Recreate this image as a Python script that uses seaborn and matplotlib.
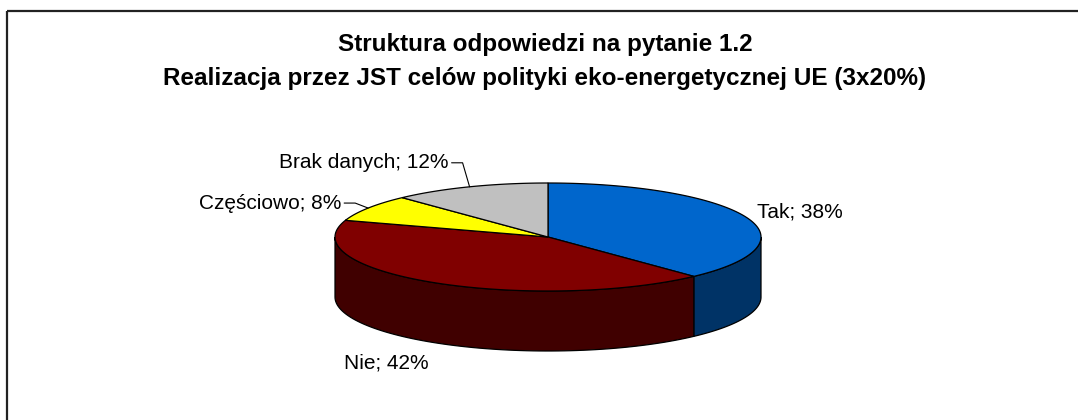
import numpy as np
import matplotlib
matplotlib.use("Agg")
import matplotlib.pyplot as plt
from matplotlib.patches import Polygon, Rectangle
import seaborn as sns

# data
categories = ["Tak", "Nie", "Częściowo", "Brak danych"]
shares = [38, 42, 8, 12]
top_colors = ["#0066CC", "#800000", "#FFFF00", "#C0C0C0"]
side_colors = ["#003366", "#400000", "#808000", "#606060"]

title_lines = ["Struktura odpowiedzi na pytanie 1.2",
               "Realizacja przez JST celów polityki eko-energetycznej UE (3x20%)"]

# label placement (offset of text anchor from slice mid-point on the rim)
label_offsets = [(11, -5, "left"), (-48, 80, "center"), (-27, -5, "right"), (-21, -24, "right")]
leader = [False, False, True, True]

sns.set_theme(style="white")
plt.rcParams["font.family"] = ["Liberation Sans", "DejaVu Sans"]

W, H = 1078, 420
fig = plt.figure(figsize=(W / 100, H / 100), dpi=100)
ax = fig.add_axes([0, 0, 1, 1])
ax.set_xlim(0, W)
ax.set_ylim(H, 0)
ax.axis("off")

# chart frame
ax.add_patch(Rectangle((7, 11), W, H, fill=False, edgecolor="#222222", lw=1.6))

cx, cy, a, b, depth = 548, 237, 213, 54, 60


def rim(t_deg):
    t = np.radians(t_deg)
    return cx + a * np.cos(t), cy - b * np.sin(t)


# slice angles: start at 12 o'clock, clockwise
total = sum(shares)
starts, ends = [], []
t = 90.0
for s in shares:
    starts.append(t)
    t -= 360.0 * s / total
    ends.append(t)

# side walls (front half only)
for i in range(len(shares)):
    lo, hi = ends[i], starts[i]
    for k in range(-2, 2):
        vlo, vhi = -180 + 360 * k, 360 * k
        l, h = max(lo, vlo), min(hi, vhi)
        if h - l <= 0:
            continue
        tt = np.linspace(l, h, 80)
        xs, ys = rim(tt)
        pts = np.column_stack([np.r_[xs, xs[::-1]], np.r_[ys, ys[::-1] + depth]])
        ax.add_patch(Polygon(pts, closed=True, facecolor=side_colors[i],
                             edgecolor="black", lw=0.9))

# top faces
for i in range(len(shares)):
    tt = np.linspace(starts[i], ends[i], 120)
    xs, ys = rim(tt)
    pts = np.column_stack([np.r_[cx, xs], np.r_[cy, ys]])
    ax.add_patch(Polygon(pts, closed=True, facecolor=top_colors[i],
                         edgecolor="black", lw=0.9))

# labels
for i, name in enumerate(categories):
    mid = (starts[i] + ends[i]) / 2
    mx, my = rim(mid)
    dx, dy, ha = label_offsets[i]
    tx, ty = mx + dx, my + dy
    ax.text(tx, ty, f"{name}; {shares[i]}%", ha=ha, va="center",
            fontsize=15, color="black")
    if leader[i]:
        ax.plot([mx, tx + 14, tx + 3], [my, ty, ty], color="black", lw=0.8)

# title
ax.text(545, 44, title_lines[0], ha="center", va="center", fontsize=17.5,
        fontweight="bold", color="black")
ax.text(545, 78, title_lines[1], ha="center", va="center", fontsize=17.5,
        fontweight="bold", color="black")

fig.savefig("out.png", dpi=100, facecolor="white")
